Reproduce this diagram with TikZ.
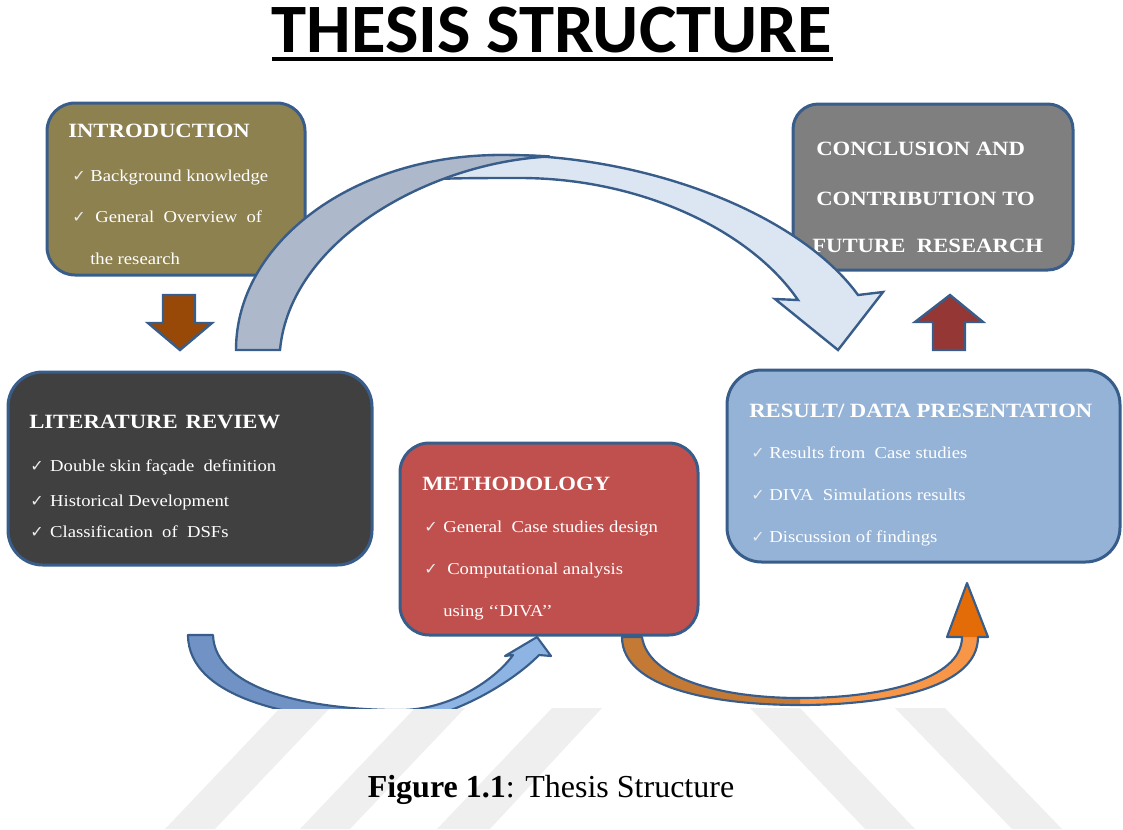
\documentclass[tikz,border=0pt]{standalone}
\usepackage{fontspec}
\setmainfont{Liberation Serif}
\newfontfamily\boxfont{Liberation Serif}[FakeStretch=1.12]
\newfontfamily\titlefont{Carlito}[FakeStretch=1.02]
\newfontfamily\tickfont{DejaVu Sans}

\definecolor{edge}{RGB}{56,93,138}
\definecolor{introfill}{RGB}{142,129,80}
\definecolor{litfill}{RGB}{64,64,64}
\definecolor{methfill}{RGB}{192,80,77}
\definecolor{resfill}{RGB}{149,179,215}
\definecolor{concfill}{RGB}{127,127,127}
\definecolor{arcdark}{RGB}{173,185,202}
\definecolor{arclight}{RGB}{220,230,242}
\definecolor{loopdark}{RGB}{112,146,196}
\definecolor{looplight}{RGB}{141,180,226}
\definecolor{orngdark}{RGB}{196,122,52}
\definecolor{ornglight}{RGB}{247,150,70}
\definecolor{ornghead}{RGB}{227,108,9}
\definecolor{brownarrow}{RGB}{152,72,7}
\definecolor{redarrow}{RGB}{149,55,53}
\definecolor{stripe}{RGB}{239,239,239}

% check mark followed by a gap before the item text
\newcommand{\tickmark}[1]{{\tickfont\fontsize{12}{12}\selectfont\color{white!85!gray}✓}\hspace{#1}}

\begin{document}
\begin{tikzpicture}[x=0.75pt,y=-0.75pt,
  box/.style={draw=edge, line width=2.25pt, inner sep=0pt, outer sep=0pt},
  item/.style={anchor=base west, inner sep=0pt, text=white,
               font=\boxfont\fontsize{12.5}{14}\selectfont},
  heading/.style={anchor=base west, inner sep=0pt, text=white,
               font=\boxfont\bfseries\fontsize{15.2}{18}\selectfont},
  blockarrow/.style={draw=edge, line width=1.8pt, line join=miter},
  loopedge/.style={draw=edge, line width=1.6pt, line join=round},
]
\useasboundingbox (0,0) rectangle (1123,829);

% faint diagonal stripes behind the caption
\fill[stripe] (165,829) -- (215,829) -- (330,708) -- (280,708) -- cycle;
\fill[stripe] (300,829) -- (350,829) -- (465,708) -- (415,708) -- cycle;
\fill[stripe] (437,829) -- (490,829) -- (602,708) -- (552,708) -- cycle;
\fill[stripe] (750,708) -- (800,708) -- (915,829) -- (865,829) -- cycle;
\fill[stripe] (895,708) -- (945,708) -- (1062,829) -- (1012,829) -- cycle;

% title
\node[anchor=base, inner sep=0pt, font=\titlefont\bfseries\fontsize{52}{60}\selectfont]
  (title) at (552,52) {THESIS STRUCTURE};
\draw[line width=2.3pt] (272,59) -- (833,59);

% caption
\node[anchor=base, inner sep=0pt, font=\fontsize{24}{28}\selectfont]
  (caption) at (551,797) {\textbf{Figure 1.1}: Thesis Structure};

% lower loops, cut off at the band edge
\begin{scope}
  \clip (0,0) rectangle (1123,708);
  % literature -> methodology
  \path[save path=\blueloop]
    (188,635) .. controls (188,700) and (300,722) .. (400,722)
    .. controls (455,718) and (515,680) .. (539,655)
    -- (551,656) -- (537,637) -- (505,656) -- (513,655)
    .. controls (495,680) and (450,710) .. (400,710)
    .. controls (310,710) and (215,690) .. (213,635) -- cycle;
  \fill[looplight, use path=\blueloop];
  \begin{scope}
    \clip (0,0) rectangle (390,829);
    \fill[loopdark, use path=\blueloop];
  \end{scope}
  \path[loopedge, use path=\blueloop];
\end{scope}

% methodology -> results
\path[save path=\orangeloop]
  (622,637) .. controls (622,690) and (720,705) .. (800,705)
  .. controls (880,705) and (978,690) .. (978,637)
  -- (988,637) -- (967,583) -- (947,637) -- (962,637)
  .. controls (962,680) and (880,698) .. (800,698)
  .. controls (720,698) and (648,678) .. (642,637) -- cycle;
\fill[ornglight, use path=\orangeloop];
\begin{scope}
  \clip (0,0) rectangle (800,829);
  \fill[orngdark, use path=\orangeloop];
\end{scope}
\fill[ornghead] (947,637) -- (967,583) -- (988,637) -- cycle;
\path[loopedge, use path=\orangeloop];

% boxes
\node[box, fill=introfill, rounded corners=21pt, minimum width=193.5pt, minimum height=129pt]
  (intro) at (176,189) {};
\node[box, fill=litfill, rounded corners=26pt, minimum width=273pt, minimum height=144.75pt]
  (lit) at (190,468.5) {};
\node[box, fill=methfill, rounded corners=22pt, minimum width=223.5pt, minimum height=144pt]
  (meth) at (549,539) {};
\node[box, fill=resfill, rounded corners=26pt, minimum width=294.75pt, minimum height=144pt]
  (res) at (923.5,466) {};
\node[box, fill=concfill, rounded corners=19pt, minimum width=210pt, minimum height=124.5pt]
  (conc) at (933,187) {};

% introduction text
\node[heading] (introhead) at (68,137) {INTRODUCTION};
\node[item] (intro1) at (72,181) {\tickmark{3.5pt}Background knowledge};
\node[item] (intro2) at (72,222) {\tickmark{7.2pt}General~ Overview~ of};
\node[item] (intro3) at (90,264) {the research};

% literature review text
\node[heading] (lithead) at (29,428) {LITERATURE\hspace{6pt}REVIEW};
\node[item] (lit1) at (30,471) {\tickmark{4.9pt}Double skin façade~ definition};
\node[item] (lit2) at (30,506) {\tickmark{4.9pt}Historical Development};
\node[item] (lit3) at (30,537) {\tickmark{4.9pt}Classification~ of~ DSFs};

% methodology text
\node[heading] (methhead) at (422,490) {METHODOLOGY};
\node[item] (meth1) at (424,532) {\tickmark{4.2pt}General~ Case studies design};
\node[item] (meth2) at (424,574) {\tickmark{7.2pt}Computational analysis};
\node[item] (meth3) at (443,616) {using ‘‘DIVA’’};

% results text
\node[heading] (reshead) at (749,417) {RESULT/ DATA PRESENTATION};
\node[item] (res1) at (751,458) {\tickmark{3.5pt}Results from~ Case studies};
\node[item] (res2) at (751,500) {\tickmark{3.5pt}DIVA~ Simulations results};
\node[item] (res3) at (751,542) {\tickmark{3.5pt}Discussion of findings};

% conclusion text
\node[heading] (conc1) at (816,155) {CONCLUSION AND};
\node[heading] (conc2) at (816,205) {CONTRIBUTION TO};
\node[heading] (conc3) at (812,252) {FUTURE~ RESEARCH};

% short block arrows
\path[blockarrow, fill=brownarrow]
  (163,295) -- (195,295) -- (195,323) -- (212,323) -- (180,350) -- (148,323) -- (163,323) -- cycle;
\path[blockarrow, fill=redarrow]
  (950,295) -- (983,322) -- (965,322) -- (965,350) -- (933,350) -- (933,322) -- (915,322) -- cycle;

% large arc from the literature review over to the conclusion
\path[blockarrow, fill=arclight]
  (420,180) .. controls (450,162) and (470,155) .. (500,155)
  .. controls (650,155) and (800,215) .. (858,295)
  -- (883,292) -- (838,350) -- (775,299) -- (798,300)
  .. controls (750,230) and (640,178) .. (520,178)
  .. controls (480,178) and (445,178) .. (420,180) -- cycle;
\path[blockarrow, fill=arcdark]
  (236,350) .. controls (236,242) and (354,155) .. (500,155)
  .. controls (520,155) and (535,155.5) .. (550,156.5)
  .. controls (430,162) and (290,240) .. (280,350) -- cycle;
\end{tikzpicture}
\end{document}
